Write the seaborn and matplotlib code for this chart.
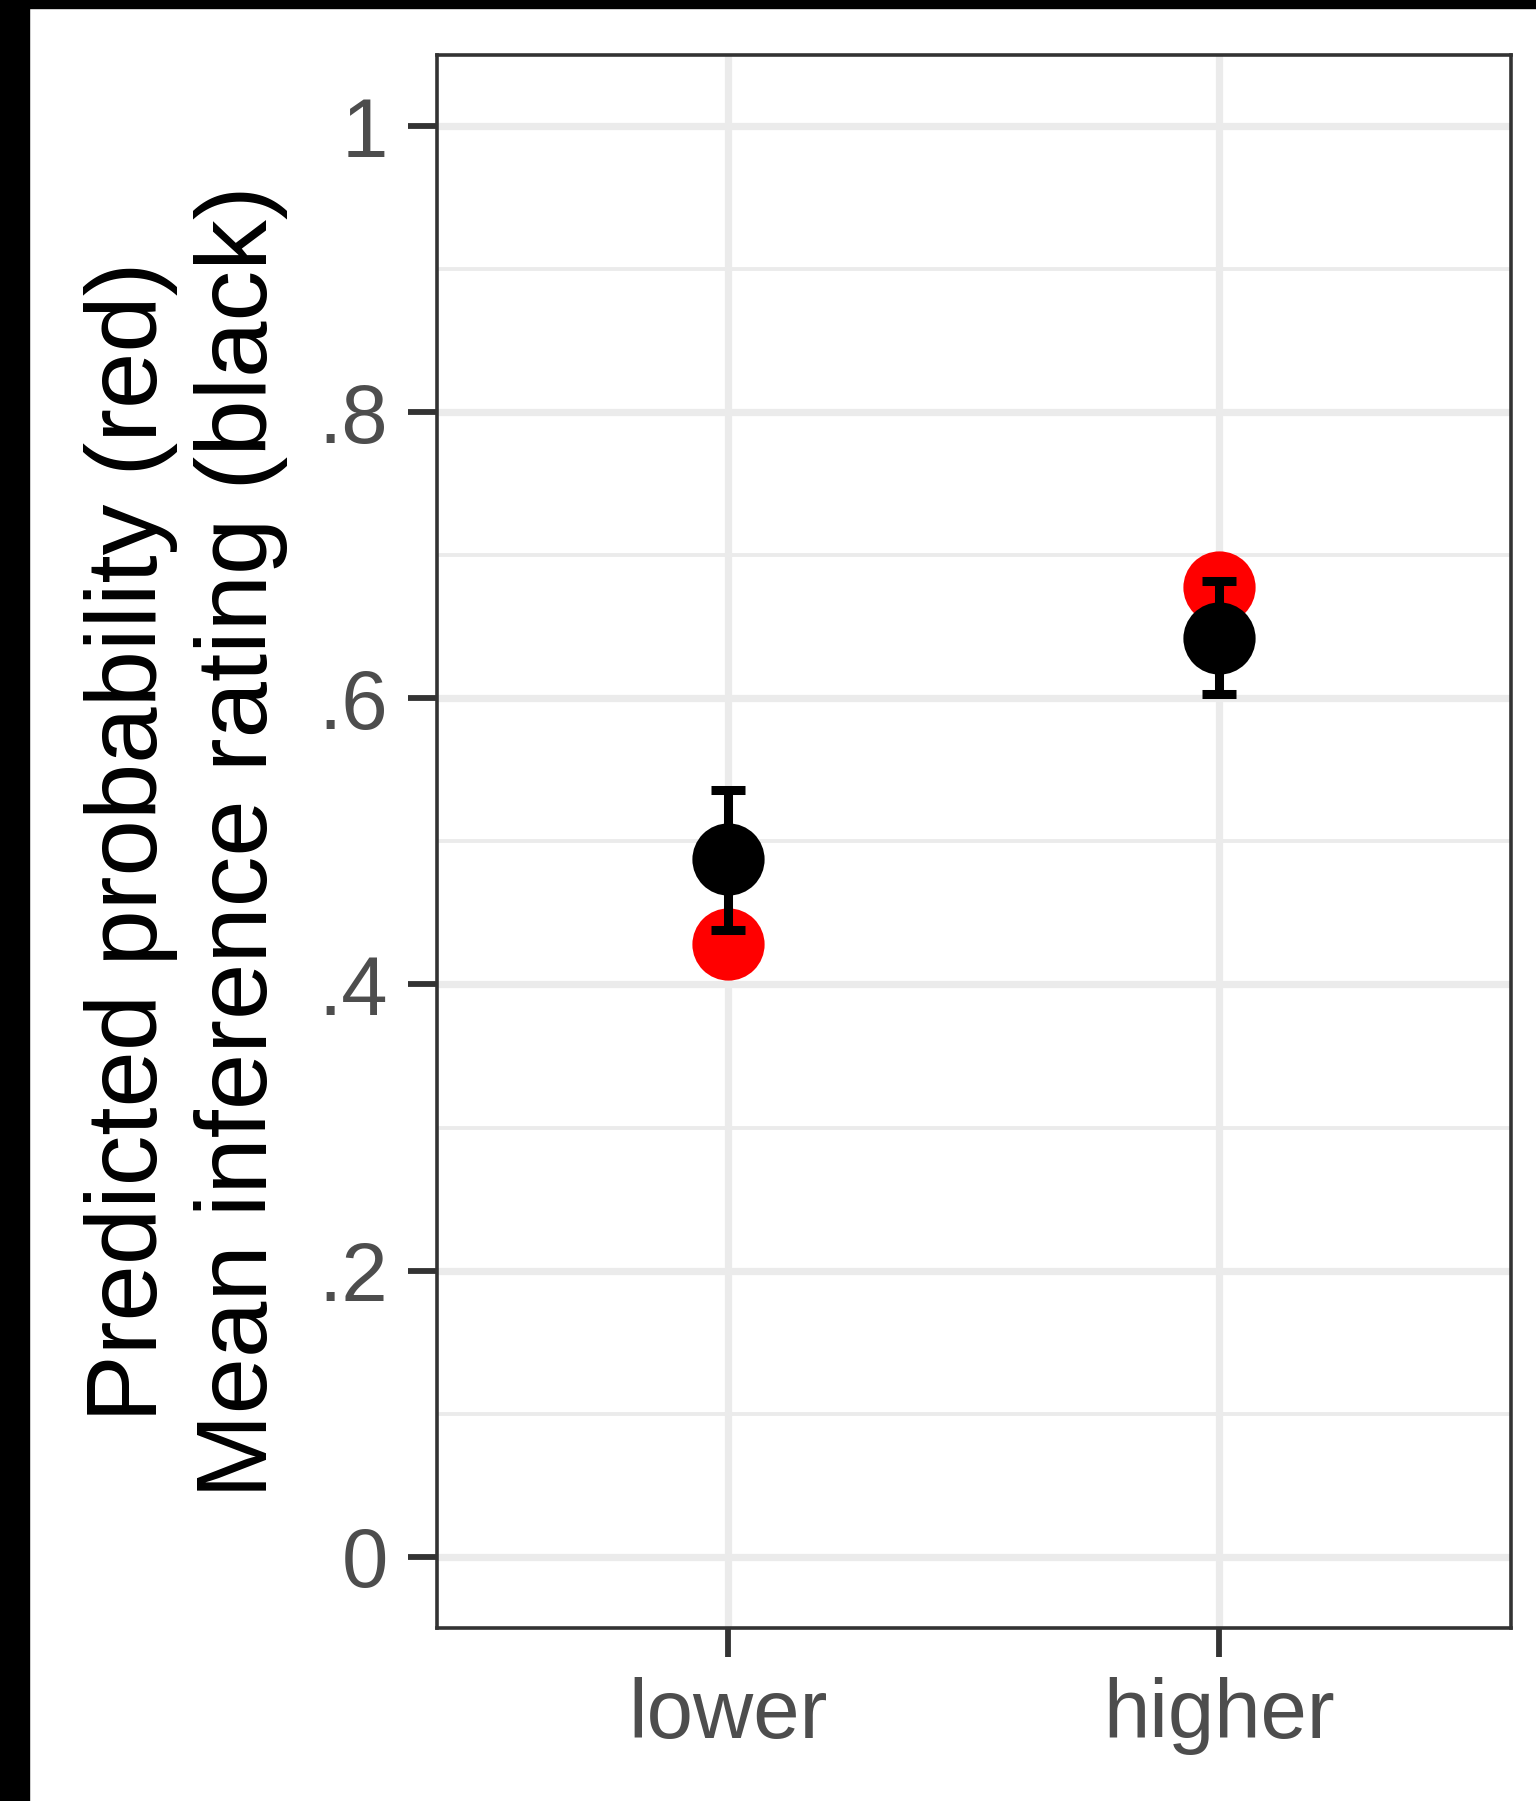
import matplotlib
matplotlib.use("Agg")
import matplotlib.pyplot as plt
from matplotlib.patches import Rectangle
import seaborn as sns
import pandas as pd
import numpy as np

categories = ["lower", "higher"]
predicted = [0.428, 0.678]
mean_rating = [0.488, 0.642]
ci_low = [0.438, 0.603]
ci_high = [0.536, 0.682]
ytick_vals = [0, 0.2, 0.4, 0.6, 0.8, 1.0]
ytick_labels = ["0", ".2", ".4", ".6", ".8", "1"]

sns.set_style("white")
plt.rcParams["font.family"] = ["Liberation Sans", "DejaVu Sans"]

df_pred = pd.DataFrame({"cond": categories, "val": predicted})
df_mean = pd.DataFrame({"cond": categories, "val": mean_rating,
                        "lo": ci_low, "hi": ci_high})

W, H, DPI = 1536, 1801, 100
fig = plt.figure(figsize=(W / DPI, H / DPI), dpi=DPI, facecolor="white")
ax = fig.add_axes([436.6 / W, 1 - 1628 / H, (1510.7 - 436.6) / W, (1628 - 55) / H])
ax.set_facecolor("white")

# grid
for y in [0.1, 0.3, 0.5, 0.7, 0.9]:
    ax.axhline(y, color="#EBEBEB", lw=2.8, zorder=0)
for y in ytick_vals:
    ax.axhline(y, color="#EBEBEB", lw=5.2, zorder=0)
for x in range(len(categories)):
    ax.axvline(x, color="#EBEBEB", lw=5.2, zorder=0)

sns.scatterplot(data=df_pred, x="cond", y="val", color="#FF0000", s=52**2,
                linewidth=0, ax=ax, zorder=3, legend=False)
xpos = np.arange(len(categories))
yerr = np.array([df_mean["val"] - df_mean["lo"], df_mean["hi"] - df_mean["val"]])
ax.errorbar(xpos, df_mean["val"], yerr=yerr, fmt="none", ecolor="black",
            elinewidth=6.5, capsize=12, capthick=6.5, zorder=4)
sns.scatterplot(data=df_mean, x="cond", y="val", color="black", s=52**2,
                linewidth=0, ax=ax, zorder=5, legend=False)

ax.set_xlim(-0.595, 1.595)
ax.set_ylim(-0.05, 1.05)
ax.set_xticks(xpos)
ax.set_xticklabels(categories)
ax.set_yticks(ytick_vals)
ax.set_yticklabels(ytick_labels)
ax.tick_params(axis="both", which="major", length=21, width=4.2, color="#333333",
               labelsize=60, labelcolor="#4D4D4D", pad=14, direction="out")
ax.tick_params(axis="both", bottom=True, left=True)
for s in ax.spines.values():
    s.set_color("#333333")
    s.set_linewidth(2.6)
    s.set_zorder(6)

ax.set_xlabel("")
ax.set_ylabel("Predicted probability (red)\nMean inference rating (black)",
              fontsize=73, color="black", linespacing=1.22, labelpad=22)

fig.add_artist(Rectangle((0, 0), 29 / W, 1, transform=fig.transFigure,
                         color="black", zorder=10))
fig.add_artist(Rectangle((0, 1 - 8 / H), 1, 8 / H, transform=fig.transFigure,
                         color="black", zorder=10))

fig.savefig("out.png", dpi=DPI, facecolor="white")
